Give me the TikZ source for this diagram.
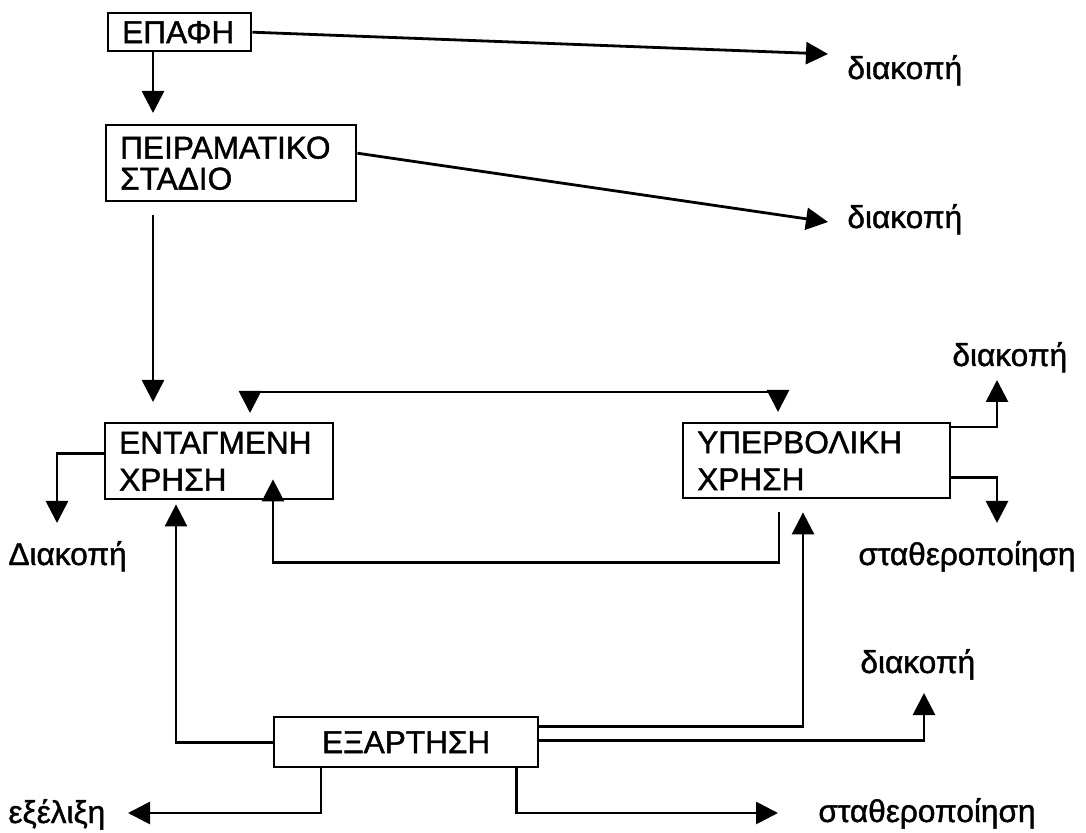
\documentclass[tikz,border=0pt]{standalone}
\usepackage{fontspec}
\setmainfont{Liberation Sans}[FakeBold=1.3]
\usetikzlibrary{arrows.meta}
\tikzset{
	stageBox/.style={rectangle, draw, line width=1.2pt, align=left, inner xsep=7pt, inner ysep=0pt, anchor=north west},
	outLabel/.style={inner sep=0pt, anchor=base west},
	flow/.style={line width=1.4pt, -{Triangle[length=11pt, width=11pt]}},
	twoWay/.style={line width=1.4pt, {Triangle[length=11pt, width=11pt]}-{Triangle[length=11pt, width=11pt]}}
}
\begin{document}
\begin{tikzpicture}[x=0.5pt, y=-0.5pt, font=\fontsize{15.8}{18.5}\selectfont]
	\useasboundingbox (0,0) rectangle (1086,833);

	\node[stageBox, text width=57.5pt, minimum height=19pt](epafi) at (107,12){ΕΠΑΦΗ};
	\node[stageBox, text width=111pt, minimum height=38pt](peir) at (105,124){ΠΕΙΡΑΜΑΤΙΚΟ\\[-3pt]ΣΤΑΔΙΟ};
	\node[stageBox, text width=100pt, minimum height=38pt](entag) at (104,422){ΕΝΤΑΓΜΕΝΗ\\ΧΡΗΣΗ};
	\node[stageBox, text width=119.5pt, minimum height=37.5pt](hyper) at (682,422){ΥΠΕΡΒΟΛΙΚΗ\\ΧΡΗΣΗ};
	\node[stageBox, align=center, text width=118pt, minimum height=25pt](exart) at (273,716){ΕΞΑΡΤΗΣΗ};

	\node[outLabel](stop1) at (847,79){διακοπή};
	\node[outLabel](stop2) at (847,228){διακοπή};
	\node[outLabel](stop3) at (952,366){διακοπή};
	\node[outLabel](stop4) at (860,673){διακοπή};
	\node[outLabel](stopLeft) at (8,565){Διακοπή};
	\node[outLabel](stable1) at (858,565){σταθεροποίηση};
	\node[outLabel](stable2) at (818,822){σταθεροποίηση};
	\node[outLabel](evolution) at (8,823){εξέλιξη};

	\coordinate (stop1Tip) at (828,54);
	\coordinate (stop2Tip) at (828,222);
	\coordinate (stop3Tip) at (997,380);
	\coordinate (stop4Tip) at (924,693);
	\coordinate (stopLeftTip) at (57,523);
	\coordinate (stable1Tip) at (997,523);
	\coordinate (stable2Tip) at (778,813);
	\coordinate (evolutionTip) at (128,813);

	\draw[flow] (epafi.east) -- (stop1Tip);
	\draw[flow] ([shift={(46,0)}]epafi.south west) -- ([shift={(48,-11)}]peir.north west);
	\draw[flow] ([shift={(0,-10)}]peir.east) -- (stop2Tip);
	\draw[flow] ([shift={(48,13)}]peir.south west) -- ([shift={(49,-20)}]entag.north west);

	\draw[twoWay] ([shift={(146,-9)}]entag.north west) -- ([shift={(146,-30)}]entag.north west) -| ([shift={(96,-10)}]hyper.north west);
	\draw[flow] ([shift={(97,13)}]hyper.south west) -- ++(0,50) -| ([shift={(169,-21)}]entag.south west);
	\draw[flow] ([shift={(0,-8)}]entag.west) -| (stopLeftTip);
	\draw[flow] ([shift={(0,5)}]hyper.north east) -| (stop3Tip);
	\draw[flow] ([shift={(0,-22)}]hyper.south east) -| (stable1Tip);

	\draw[flow] (exart.west) -| ([shift={(72,4)}]entag.south west);
	\draw[flow] ([shift={(0,-16)}]exart.east) -| ([shift={(121,13)}]hyper.south west);
	\draw[flow] ([shift={(0,-2)}]exart.east) -| (stop4Tip);
	\draw[flow] ([shift={(48,0)}]exart.south west) |- (evolutionTip);
	\draw[flow] ([shift={(-23,0)}]exart.south east) |- (stable2Tip);
\end{tikzpicture}
\end{document}
